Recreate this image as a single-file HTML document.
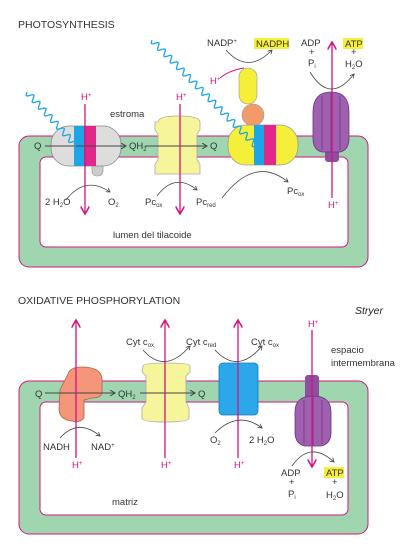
<!DOCTYPE html>
<html><head><meta charset="utf-8"><style>
html,body{margin:0;padding:0;background:#fff}
svg{display:block;font-family:"Liberation Sans",sans-serif}
.t{font-size:9.5px;fill:#333}
.h{font-size:9.5px;fill:#d4147e}
.ti{font-size:10.5px;fill:#333}
</style></head><body>
<svg id="dg" width="412" height="549" viewBox="0 0 412 549">
<defs>
<marker id="ak" markerWidth="6" markerHeight="6" refX="5" refY="3" orient="auto"><path d="M0,0L5,3L0,6" fill="none" stroke="#444" stroke-width="1"/></marker>
<marker id="ap" markerWidth="7" markerHeight="7" refX="6" refY="3.5" orient="auto"><path d="M0,0L6,3.5L0,7" fill="none" stroke="#d4147e" stroke-width="1.2"/></marker>
</defs>

<g>
<text x="18" y="28" class="ti">PHOTOSYNTHESIS</text>
<rect x="19" y="136" width="349" height="131" rx="10" fill="#9fd6b0" stroke="#d4147e" stroke-width="1"/>
<rect x="40" y="157" width="308" height="90" rx="6" fill="#fff" stroke="#d4147e" stroke-width="1"/>
<text x="110" y="117" class="t" font-size="10">estroma</text>
<text x="113" y="238" class="t" font-size="10">lumen del tilacoide</text>

<g>
<rect x="92" y="160" width="11" height="16" rx="5" fill="#ccc" stroke="#888" stroke-width="0.6"/>
<rect x="51" y="126" width="70" height="40" rx="18" fill="#ddd" stroke="#888" stroke-width="0.8"/>
<rect x="74" y="126" width="10" height="40" fill="#1ca6e8"/>
<rect x="84" y="126" width="12" height="40" fill="#e0288a"/>
</g>
<path d="M158,122 Q158,116 178,116 Q200,116 200,122 L200,130 L197,134 L197,160 L200,164 L200,174 L155,174 L155,164 L158,160 L158,134 L155,130 L155,122 Z" fill="#f7f59a" stroke="#aaa" stroke-width="0.8"/>
<g>
<rect x="239" y="68" width="18" height="36" rx="9" fill="#f5ef3a" stroke="#999" stroke-width="0.6"/>
<circle cx="253" cy="115" r="11" fill="#f39a6a" stroke="#999" stroke-width="0.6"/>
<rect x="228" y="125" width="70" height="40" rx="18" fill="#f5ef3a" stroke="#999" stroke-width="0.8"/>
<rect x="254" y="125" width="10" height="40" fill="#1ca6e8"/>
<rect x="264" y="125" width="12" height="40" fill="#e0288a"/>
</g>
<g>
<rect x="325" y="140" width="14" height="22" rx="3" fill="#8e4fa0"/>
<path d="M313,112 Q313,92 331,92 Q349,92 349,112 L349,138 Q349,150 340,152 L322,152 Q313,150 313,138 Z" fill="#a060b0" stroke="#6a3080" stroke-width="0.8"/>
<path d="M322,96 L322,150 M331,92 L331,152 M340,96 L340,150" stroke="#6a3080" stroke-width="0.7"/>
</g>
<line x1="45" y1="146" x2="126" y2="146" stroke="#444" marker-end="url(#ak)"/>
<line x1="145" y1="146" x2="207" y2="146" stroke="#444" marker-end="url(#ak)"/>
<text x="34" y="149" class="t">Q</text>
<text x="129" y="149" class="t">QH<tspan font-size="6" dy="2">2</tspan></text>
<text x="210" y="149" class="t">Q</text>
<path id="w1" d="" fill="none" stroke="#1ca6e8" stroke-width="1.3"/>
<path id="w2" d="" fill="none" stroke="#1ca6e8" stroke-width="1.3"/>
<line x1="85" y1="104" x2="85" y2="214" stroke="#d4147e" stroke-width="1.3" marker-end="url(#ap)"/>
<text x="81" y="100" class="h">H<tspan font-size="6" dy="-3">+</tspan></text>
<line x1="180" y1="104" x2="180" y2="214" stroke="#d4147e" stroke-width="1.3" marker-end="url(#ap)"/>
<text x="176" y="100" class="h">H<tspan font-size="6" dy="-3">+</tspan></text>
<line x1="332" y1="198" x2="332" y2="42" stroke="#d4147e" stroke-width="1.3" marker-end="url(#ap)"/>
<text x="328" y="208" class="h">H<tspan font-size="6" dy="-3">+</tspan></text>
<text x="210" y="84" class="h">H<tspan font-size="6" dy="-3">+</tspan></text>
<path d="M220,78 Q230,70 244,68" fill="none" stroke="#d4147e" stroke-width="1"/>
<path d="M226,50 Q248,75 272,50" fill="none" stroke="#444" stroke-width="0.8" marker-end="url(#ak)"/>
<text x="207" y="46" class="t">NADP<tspan font-size="6" dy="-3">+</tspan></text>
<rect x="254" y="38" width="35" height="11" fill="#f7ef3a"/>
<text x="256" y="47" class="t">NADPH</text>
<text x="301" y="46" class="t">ADP</text><text x="309" y="55" class="t" font-size="7">+</text><text x="308" y="66" class="t">P<tspan font-size="6" dy="2">i</tspan></text>
<rect x="343" y="38" width="20" height="11" fill="#f7ef3a"/>
<text x="345" y="47" class="t">ATP</text><text x="351" y="55" class="t" font-size="7">+</text><text x="345" y="67" class="t">H<tspan font-size="6" dy="2">2</tspan><tspan dy="-2">O</tspan></text>
<path d="M310,72 Q330,105 354,74" fill="none" stroke="#444" stroke-width="0.8" marker-end="url(#ak)"/>
<path d="M66,200 Q85,175 110,192" fill="none" stroke="#444" stroke-width="0.8" marker-end="url(#ak)"/>
<text x="45" y="205" class="t">2 H<tspan font-size="6" dy="2">2</tspan><tspan dy="-2">O</tspan></text>
<text x="108" y="205" class="t">O<tspan font-size="6" dy="2">2</tspan></text>
<path d="M157,196 Q175,172 197,190" fill="none" stroke="#444" stroke-width="0.8" marker-end="url(#ak)"/>
<text x="145" y="205" class="t">Pc<tspan font-size="6" dy="2">ox</tspan></text>
<text x="196" y="205" class="t">Pc<tspan font-size="6" dy="2">red</tspan></text>
<path d="M222,198 Q255,155 288,182" fill="none" stroke="#444" stroke-width="0.8" marker-end="url(#ak)"/>
<text x="287" y="194" class="t">Pc<tspan font-size="6" dy="2">ox</tspan></text>
</g>

<g>
<text x="18" y="304" class="ti">OXIDATIVE PHOSPHORYLATION</text>
<text x="355" y="314" font-size="10.5" font-style="italic" fill="#222">Stryer</text>
<rect x="19" y="381" width="349" height="153" rx="10" fill="#9fd6b0" stroke="#d4147e" stroke-width="1"/>
<rect x="40" y="402" width="308" height="113" rx="6" fill="#fff" stroke="#d4147e" stroke-width="1"/>
<text x="112" y="505" class="t" font-size="10">matriz</text>
<text x="331" y="353" class="t" font-size="10">espacio</text>
<text x="331" y="366" class="t" font-size="10">intermembrana</text>
<path d="M68,374 Q70,367 82,367 Q100,367 102,378 L102,392 Q102,398 92,398 L84,400 L84,418 Q80,423 72,421 Q59,420 59,408 L60,390 Z" fill="#f5957a" stroke="#b0604a" stroke-width="0.8"/>
<path d="M143,366 Q143,363 166,363 Q190,363 190,366 L190,372 L186,376 L186,402 L189,408 L189,418 Q189,422 166,422 Q142,422 142,418 L142,408 L146,402 L146,376 L142,372 Z" fill="#f7f59a" stroke="#aaa" stroke-width="0.8"/>
<rect x="219" y="363" width="39" height="52" rx="4" fill="#2aa8ea" stroke="#1a78b0" stroke-width="0.8"/>
<g>
<rect x="305" y="375" width="14" height="30" rx="3" fill="#8e4fa0"/>
<path d="M295,412 Q295,396 313,396 Q331,396 331,412 L331,432 Q331,444 321,446 L305,446 Q295,444 295,432 Z" fill="#a060b0" stroke="#6a3080" stroke-width="0.8"/>
<path d="M304,400 L304,444 M313,396 L313,446 M322,400 L322,444" stroke="#6a3080" stroke-width="0.7"/>
</g>
<line x1="45" y1="393" x2="115" y2="393" stroke="#444" marker-end="url(#ak)"/>
<line x1="140" y1="393" x2="195" y2="393" stroke="#444" marker-end="url(#ak)"/>
<text x="35" y="397" class="t">Q</text>
<text x="118" y="397" class="t">QH<tspan font-size="6" dy="2">2</tspan></text>
<text x="198" y="397" class="t">Q</text>
<line x1="76" y1="458" x2="76" y2="320" stroke="#d4147e" stroke-width="1.3" marker-end="url(#ap)"/>
<text x="72" y="468" class="h">H<tspan font-size="6" dy="-3">+</tspan></text>
<line x1="165" y1="458" x2="165" y2="320" stroke="#d4147e" stroke-width="1.3" marker-end="url(#ap)"/>
<text x="161" y="468" class="h">H<tspan font-size="6" dy="-3">+</tspan></text>
<line x1="238" y1="458" x2="238" y2="320" stroke="#d4147e" stroke-width="1.3" marker-end="url(#ap)"/>
<text x="234" y="468" class="h">H<tspan font-size="6" dy="-3">+</tspan></text>
<line x1="312" y1="330" x2="312" y2="467" stroke="#d4147e" stroke-width="1.3" marker-end="url(#ap)"/>
<text x="308" y="327" class="h">H<tspan font-size="6" dy="-3">+</tspan></text>
<text x="126" y="345" class="t">Cyt c<tspan font-size="6" dy="2">ox</tspan></text>
<text x="186" y="345" class="t">Cyt c<tspan font-size="6" dy="2">red</tspan></text>
<text x="251" y="345" class="t">Cyt c<tspan font-size="6" dy="2">ox</tspan></text>
<path d="M143,350 Q165,375 190,346" fill="none" stroke="#444" stroke-width="0.8" marker-end="url(#ak)"/>
<path d="M215,350 Q238,375 262,346" fill="none" stroke="#444" stroke-width="0.8" marker-end="url(#ak)"/>
<path d="M60,438 Q78,418 100,436" fill="none" stroke="#444" stroke-width="0.8" marker-end="url(#ak)"/>
<text x="43" y="450" class="t">NADH</text>
<text x="91" y="450" class="t">NAD<tspan font-size="6" dy="-3">+</tspan></text>
<path d="M215,433 Q238,410 262,428" fill="none" stroke="#444" stroke-width="0.8" marker-end="url(#ak)"/>
<text x="210" y="443" class="t">O<tspan font-size="6" dy="2">2</tspan></text>
<text x="249" y="443" class="t">2 H<tspan font-size="6" dy="2">2</tspan><tspan dy="-2">O</tspan></text>
<path d="M292,466 Q310,440 334,462" fill="none" stroke="#444" stroke-width="0.8" marker-end="url(#ak)"/>
<text x="281" y="476" class="t">ADP</text><text x="289" y="485" class="t" font-size="7">+</text><text x="288" y="497" class="t">P<tspan font-size="6" dy="2">i</tspan></text>
<rect x="324" y="467" width="20" height="11" fill="#f7ef3a"/>
<text x="326" y="476" class="t">ATP</text><text x="332" y="485" class="t" font-size="7">+</text><text x="326" y="498" class="t">H<tspan font-size="6" dy="2">2</tspan><tspan dy="-2">O</tspan></text>
</g>
</svg>
<script>
function wave(x1,y1,x2,y2,period,amp){
  var dx=x2-x1,dy=y2-y1,L=Math.sqrt(dx*dx+dy*dy),ux=dx/L,uy=dy/L,nx=-uy,ny=ux,d='';
  for(var s=0;s<=L;s+=1){var o=amp*Math.sin(2*Math.PI*s/period);
    d+=(s?'L':'M')+(x1+ux*s+nx*o).toFixed(1)+','+(y1+uy*s+ny*o).toFixed(1);}
  return d;
}
document.getElementById('w1').setAttribute('d',wave(27,92,80,150,9,3));
document.getElementById('w2').setAttribute('d',wave(152,40,262,152,9,3));
</script>
</body></html>
